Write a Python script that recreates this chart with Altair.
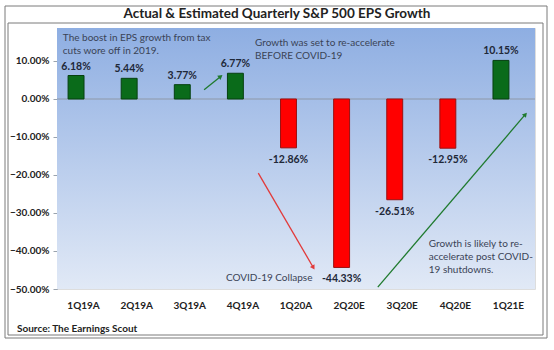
import math
import altair as alt
import pandas as pd

# ---- data ----
quarters = ["1Q19A", "2Q19A", "3Q19A", "4Q19A", "1Q20A", "2Q20E", "3Q20E", "4Q20E", "1Q21E"]
growth = [6.18, 5.44, 3.77, 6.77, -12.86, -44.33, -26.51, -12.95, 10.15]
y_ticks = [-50, -40, -30, -20, -10, 0, 10]

# annotation texts (position in category units / percent)
note_text = [
    ["The boost in EPS growth from tax", "cuts wore off in 2019."],
    ["Growth was set to re-accelerate", "BEFORE COVID-19"],
    ["COVID-19 Collapse"],
    ["Growth is likely to re-", "accelerate post COVID-", "19 shutdowns."],
]
note_u = [0.11, 3.73, 3.18, 7.00]
note_v = [16.0, 14.7, -47.1, -38.2]

# arrows (start/end in category units / percent)
arrow_u1 = [2.77, 3.79, 6.04]
arrow_v1 = [2.4, -19.5, -49.5]
arrow_u2 = [3.07, 4.82, 8.81]
arrow_v2 = [5.8, -44.2, -4.2]
arrow_col = ["#1f7a2e", "#e23a3a", "#1f7a2e"]

W, H = 478, 261
Y_MIN, Y_MAX = -50, 18.68
PX_U = W / 9.0
PX_V = H / (Y_MAX - Y_MIN)

df = pd.DataFrame({"q": quarters, "g": growth})
df["color"] = ["#0a6b1a" if v >= 0 else "#ff0000" for v in growth]
df["stroke"] = ["#064010" if v >= 0 else "#9a1010" for v in growth]
df["label"] = [f"{v:.2f}%" for v in growth]

notes = pd.DataFrame({"u": note_u, "v": note_v, "t": note_text})
arrows = pd.DataFrame({"u1": arrow_u1, "v1": arrow_v1, "u2": arrow_u2, "v2": arrow_v2, "c": arrow_col})
arrows["ang"] = [
    math.degrees(math.atan2((u2 - u1) * PX_U, (v2 - v1) * PX_V))
    for u1, v1, u2, v2 in zip(arrow_u1, arrow_v1, arrow_u2, arrow_v2)
]

one = pd.DataFrame({"a": [0]})
FONT = "Lato"

yscale = alt.Scale(domain=[Y_MIN, Y_MAX], nice=False, zero=False)
xband = alt.Scale(domain=quarters, paddingInner=0.7, paddingOuter=0.35)
uscale = alt.Scale(domain=[0, 9], nice=False, zero=False)

bg = alt.Chart(one).mark_rect(
    fill=alt.Gradient(
        gradient="linear",
        x1=0, x2=0, y1=0, y2=1,
        stops=[alt.GradientStop(color="#8eaee2", offset=0),
               alt.GradientStop(color="#e1e9f6", offset=1)],
    )
).encode(x=alt.value(0), x2=alt.value(W), y=alt.value(0), y2=alt.value(H))

base = alt.Chart(df)

bars = base.mark_bar(xOffset=-7.5, strokeWidth=1).encode(
    x=alt.X("q:N", scale=xband, sort=quarters,
            axis=alt.Axis(title=None, domain=False, ticks=False, labelAngle=0,
                          labelPadding=11, labelFont=FONT, labelFontSize=10,
                          labelFontWeight="bold", labelColor="#222222")),
    y=alt.Y("g:Q", scale=yscale,
            axis=alt.Axis(title=None, values=y_ticks, grid=False,
                          labelExpr="format(datum.value, '.2f') + '%'",
                          labelFont=FONT, labelFontSize=10, labelFontWeight="bold",
                          labelColor="#222222", tickSize=4, tickColor="#9aa3ad",
                          domainColor="#9aa3ad", labelPadding=4)),
    y2=alt.datum(0),
    color=alt.Color("color:N", scale=None),
    stroke=alt.Stroke("stroke:N", scale=None),
)

zero = alt.Chart(one).mark_rule(color="#8d98a8", strokeWidth=1.2).encode(
    y=alt.datum(0, scale=yscale), x=alt.value(0), x2=alt.value(W)
)

pos_lab = base.transform_filter("datum.g >= 0").mark_text(
    xOffset=-7.5, dy=-4, baseline="bottom", font=FONT, fontSize=10.5,
    fontWeight="bold", color="#1e2838"
).encode(x=alt.X("q:N", scale=xband, sort=quarters, axis=None),
         y=alt.Y("g:Q", scale=yscale), text="label:N")

neg_lab = base.transform_filter("datum.g < 0").mark_text(
    xOffset=-7.5, dy=7, baseline="top", font=FONT, fontSize=10.5,
    fontWeight="bold", color="#1e2838"
).encode(x=alt.X("q:N", scale=xband, sort=quarters, axis=None),
         y=alt.Y("g:Q", scale=yscale), text="label:N")

arrow_lines = alt.Chart(arrows).mark_rule(strokeWidth=1.3).encode(
    x=alt.X("u1:Q", scale=uscale, axis=None), x2="u2:Q",
    y=alt.Y("v1:Q", scale=yscale), y2="v2:Q",
    color=alt.Color("c:N", scale=None),
)
arrow_heads = alt.Chart(arrows).mark_point(shape="triangle", filled=True, size=28, opacity=1).encode(
    x=alt.X("u2:Q", scale=uscale, axis=None),
    y=alt.Y("v2:Q", scale=yscale),
    angle=alt.Angle("ang:Q", scale=None),
    color=alt.Color("c:N", scale=None),
)

note_marks = alt.Chart(notes).mark_text(
    align="left", baseline="middle", font=FONT, fontSize=10, color="#3a4356", lineHeight=13
).encode(
    x=alt.X("u:Q", scale=uscale, axis=None),
    y=alt.Y("v:Q", scale=yscale),
    text="t",
)

outer = alt.Chart(one).mark_rect(fill="transparent", stroke="#7a7a7a", strokeWidth=1).encode(
    x=alt.value(-52), x2=alt.value(490), y=alt.value(-22), y2=alt.value(310)
)
inner = alt.Chart(one).mark_rect(fill="transparent", stroke="#7a7a7a", strokeWidth=1).encode(
    x=alt.value(-49), x2=alt.value(486), y=alt.value(-5), y2=alt.value(307)
)
title = alt.Chart(one).mark_text(
    text="Actual & Estimated Quarterly S&P 500 EPS Growth", font=FONT, fontSize=13.5,
    fontWeight="bold", color="#222222", baseline="middle", align="center"
).encode(x=alt.value(220), y=alt.value(-14))
source = alt.Chart(one).mark_text(
    text="Source: The Earnings Scout", font=FONT, fontSize=10, fontWeight="bold",
    color="#222222", baseline="middle", align="left"
).encode(x=alt.value(-40), y=alt.value(301))

chart = alt.layer(
    bg, zero, bars, pos_lab, neg_lab, arrow_lines, arrow_heads, note_marks,
    outer, inner, title, source
).resolve_scale(x="independent").properties(
    width=W, height=H,
    autosize=alt.AutoSizeParams(type="none"),
    padding={"left": 57, "top": 28, "right": 19, "bottom": 61},
).configure_view(stroke=None).configure(background="white")

chart.save("out.html", embed_options={"renderer": "svg", "actions": False})
